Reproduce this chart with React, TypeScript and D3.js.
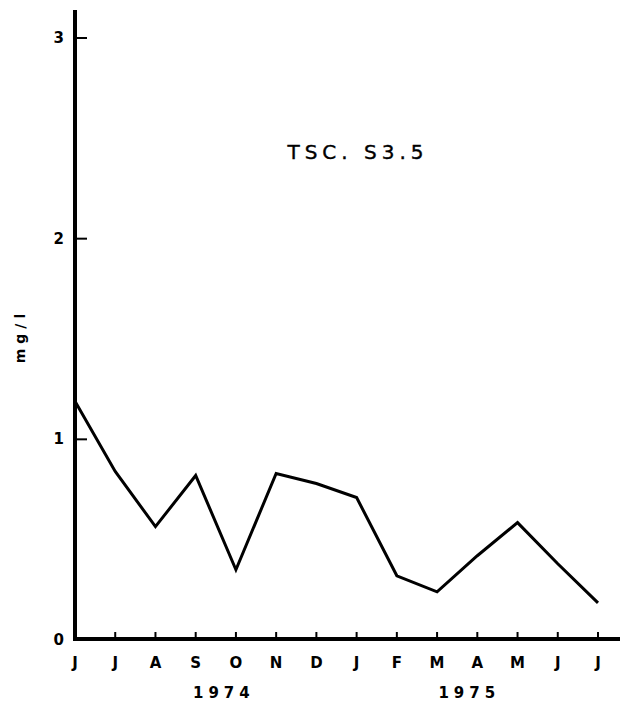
import { useEffect, useRef } from 'react'
import * as d3 from 'd3'

const months = ['J', 'J', 'A', 'S', 'O', 'N', 'D', 'J', 'F', 'M', 'A', 'M', 'J', 'J']
const tsc = [1.19, 0.84, 0.565, 0.82, 0.35, 0.83, 0.78, 0.71, 0.32, 0.24, 0.42, 0.585, 0.38, 0.185]
const yTicks = [0, 1, 2, 3]
const years = [
  { label: '1974', at: 3.7 },
  { label: '1975', at: 9.8 },
]

const App = () => {
  const svgRef = useRef(null)

  useEffect(() => {
    const width = 627
    const height = 703
    const svg = d3.select(svgRef.current).attr('width', width).attr('height', height)
    svg.selectAll('*').remove()

    const x = d3.scaleLinear().domain([0, months.length - 1]).range([75, 598])
    const y = d3.scaleLinear().domain([0, 3]).range([640, 38])

    const font = 'DejaVu Sans, Arial, sans-serif'

    // axes
    svg.append('line')
      .attr('x1', 75).attr('x2', 75).attr('y1', 10).attr('y2', 641)
      .attr('stroke', '#000').attr('stroke-width', 4)
    svg.append('line')
      .attr('x1', 73).attr('x2', 620).attr('y1', 639).attr('y2', 639)
      .attr('stroke', '#000').attr('stroke-width', 4)

    // y ticks
    const yt = svg.append('g')
    yt.selectAll('line').data(yTicks.slice(1)).join('line')
      .attr('x1', 75).attr('x2', 87)
      .attr('y1', d => y(d)).attr('y2', d => y(d))
      .attr('stroke', '#000').attr('stroke-width', 2)
    yt.selectAll('text').data(yTicks).join('text')
      .attr('x', 64).attr('y', d => y(d) + 5)
      .attr('text-anchor', 'end')
      .attr('font-family', font).attr('font-weight', 'bold').attr('font-size', 15)
      .text(d => d)

    // x ticks
    const xt = svg.append('g')
    xt.selectAll('line').data(months.slice(1)).join('line')
      .attr('x1', (_, i) => x(i + 1)).attr('x2', (_, i) => x(i + 1))
      .attr('y1', 632).attr('y2', 639)
      .attr('stroke', '#000').attr('stroke-width', 2)
    xt.selectAll('text').data(months).join('text')
      .attr('x', (_, i) => x(i)).attr('y', 668)
      .attr('text-anchor', 'middle')
      .attr('font-family', font).attr('font-weight', 'bold').attr('font-size', 15)
      .text(d => d)

    svg.append('g').selectAll('text').data(years).join('text')
      .attr('x', d => x(d.at)).attr('y', 698)
      .attr('text-anchor', 'middle')
      .attr('font-family', font).attr('font-weight', 'bold').attr('font-size', 15)
      .attr('letter-spacing', 5)
      .text(d => d.label)

    // y label
    svg.append('text')
      .attr('transform', 'translate(25, 336) rotate(-90)')
      .attr('text-anchor', 'middle')
      .attr('font-family', font).attr('font-weight', 'bold').attr('font-size', 14)
      .attr('letter-spacing', 5)
      .text('mg/l')

    // title
    svg.append('text')
      .attr('x', 358).attr('y', 159)
      .attr('text-anchor', 'middle')
      .attr('font-family', font).attr('font-size', 20)
      .attr('stroke', '#000').attr('stroke-width', 0.4)
      .attr('letter-spacing', 5)
      .text('TSC. S3.5')

    // series
    const line = d3.line<number>().x((_, i) => x(i)).y(d => y(d))
    svg.append('path')
      .datum(tsc)
      .attr('d', line)
      .attr('fill', 'none')
      .attr('stroke', '#000')
      .attr('stroke-width', 3)
      .attr('stroke-linejoin', 'miter')
  }, [])

  return <svg ref={svgRef} style={{ position: 'absolute', left: 0, top: 0 }}></svg>
}

export default App
